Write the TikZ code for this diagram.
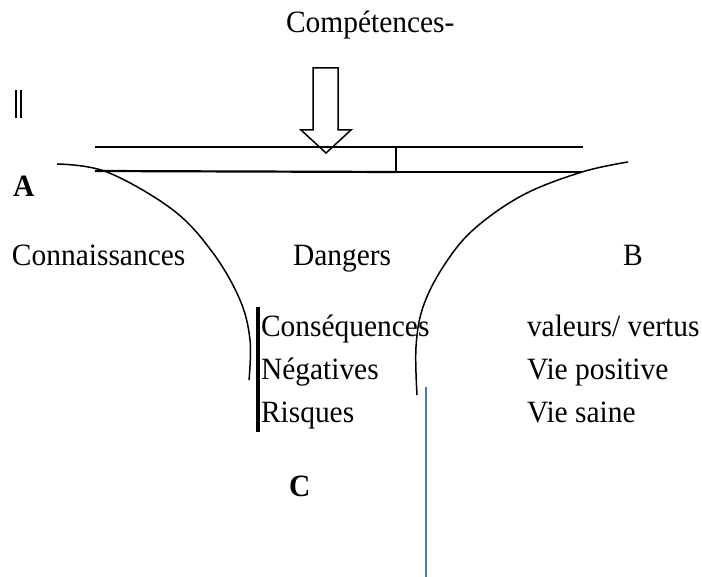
\documentclass[tikz,border=0pt]{standalone}
\usepackage{fontspec}
\setmainfont{Liberation Serif}
\newcommand{\mytx}[1]{\scalebox{0.95}[1]{#1}}
\begin{document}
\begin{tikzpicture}[x=1pt,y=-1pt,
  lbl/.style={anchor=base west,inner sep=0pt,outer sep=0pt,font=\fontsize{31}{36}\selectfont},
  blbl/.style={lbl,font=\fontsize{31}{36}\selectfont\bfseries},
  curve/.style={line width=1.5pt,black},
  bar/.style={line width=1.5pt,black}]
\useasboundingbox (0,0) rectangle (702,577);
% title
\node[lbl] (comp) at (286,33) {\mytx{Compétences-}};
% double bar mark
\draw[line width=2pt] (16,90) -- (16,118);
\draw[line width=2pt] (21,90) -- (21,118);
% hollow arrow
\draw[line width=1.5pt,fill=white] (313,68) -- (338,68) -- (338,130) -- (351,130) -- (326,153) -- (301,130) -- (313,130) -- cycle;
% bar
\coordinate (tl) at (95,147);
\coordinate (tr) at (583,147);
\coordinate (dt) at (396,147);
\coordinate (db) at (396,172);
\coordinate (bl) at (95,171);
\coordinate (br) at (582,172);
\draw[bar] (tl) -- (tr);
\draw[line width=2.2pt] (bl) -- (db);
\draw[line width=1.2pt] (db) -- (br);
\draw[line width=1.4pt] (dt) -- (db);
% arcs
\draw[curve] plot[smooth,tension=0.6] coordinates {(57,164) (107,172) (173,210) (213,253) (240,300) (250,340) (249,380)};
\draw[curve] plot[smooth,tension=0.6] coordinates {(628,162) (582,172) (523,195) (473,230) (443,267) (423,307) (416,347) (417,395)};
% labels
\node[blbl] (A) at (13,197) {\mytx{A}};
\node[lbl] (conn) at (12,266) {\mytx{Connaissances}};
\node[lbl] (dang) at (293,266) {\mytx{Dangers}};
\node[lbl] (B) at (623,266) {\mytx{B}};
\node[lbl] (cons) at (261,337) {\mytx{Conséquences}};
\node[lbl] (neg) at (261,380) {\mytx{Négatives}};
\node[lbl] (ris) at (261,423) {\mytx{Risques}};
\node[lbl] (val) at (527,337) {\mytx{valeurs/ vertus}};
\node[lbl] (vp) at (527,380) {\mytx{Vie positive}};
\node[lbl] (vs) at (527,423) {\mytx{Vie saine}};
\node[blbl] (C) at (289,496) {\mytx{C}};
% black vertical bar
\draw[line width=3.2pt] (258,307) -- (258,432);
% blue line
\definecolor{wordblue}{RGB}{74,126,187}
\draw[line width=2.2pt,wordblue] (426,387) -- (426,577);
\end{tikzpicture}
\end{document}
